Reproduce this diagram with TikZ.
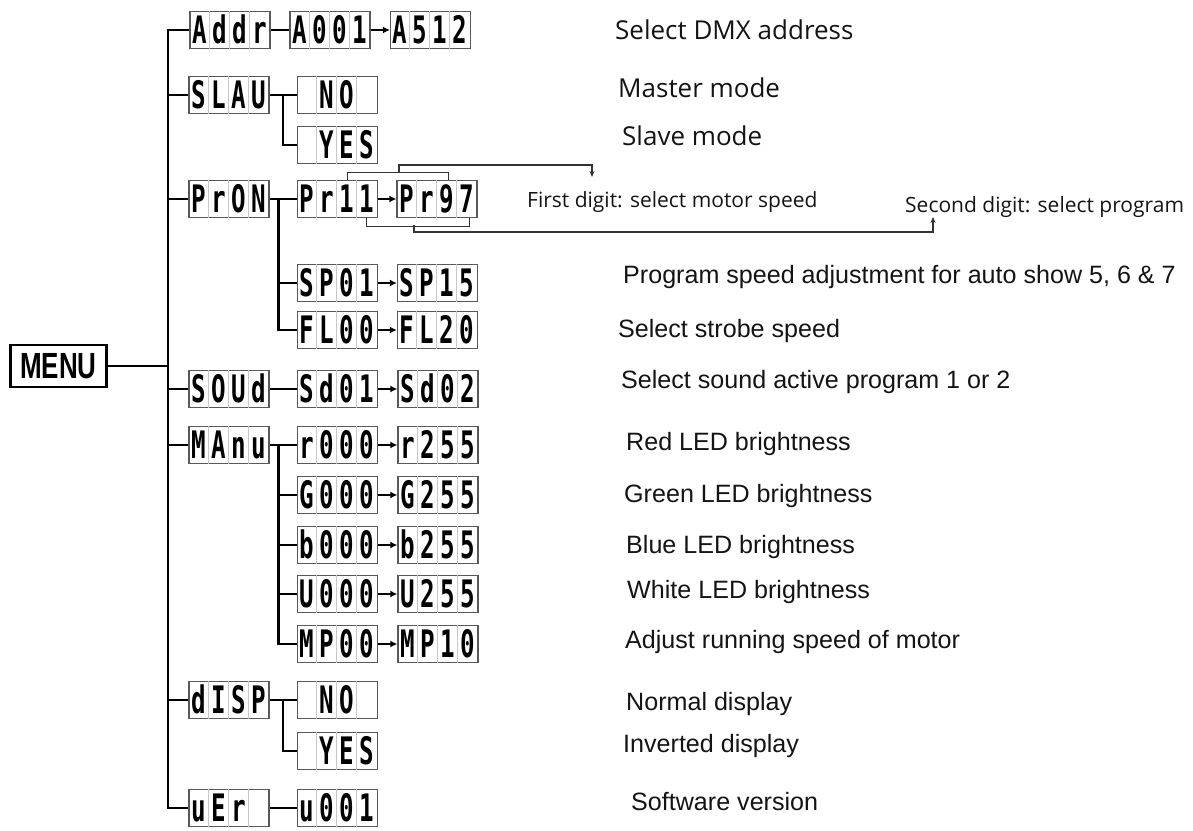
\documentclass[tikz,border=0pt]{standalone}
\usepackage{fontspec}
\usepackage{graphicx}
\usetikzlibrary{arrows.meta,calc}
\setmainfont{Liberation Sans}
\newfontfamily\segfont{Open Sans}
\newfontfamily\lcdfont{DejaVu Sans Mono}
\newcommand\lcdchar[1]{\scalebox{1.1}[1.72]{\lcdfont\bfseries\fontsize{22}{22}\selectfont #1}}
\tikzset{
  lcdbox/.style={draw=black!65, line width=1.3pt, minimum width=80pt, minimum height=37pt, inner sep=0pt},
  lcdcell/.style={draw=black!22, line width=0.8pt},
  lcdtxt/.style={anchor=base, inner sep=0pt},
  conn/.style={line width=2.6pt, black},
  arr/.style={conn, -{Latex[length=7pt,width=7pt]}},
  thinln/.style={line width=1.2pt, black!80},
  tarr/.style={thinln, -{Stealth[length=6pt,width=5pt]}},
  lab/.style={anchor=base west, inner sep=0pt, text=black!92, font=\fontsize{25.1}{30}\selectfont},
  slab/.style={anchor=base west, inner sep=0pt, text=black!92, font=\segfont\fontsize{26}{30}\selectfont},
  smlab/.style={anchor=base west, inner sep=0pt, text=black!92, font=\segfont\fontsize{21}{25}\selectfont}
}
\newcommand\lcd[7]{%
  \node[lcdbox] (#1) at (#2,#3) {};
  \foreach \i in {1,2,3} \draw[lcdcell] ([xshift=\i*20pt]#1.north west) -- ([xshift=\i*20pt]#1.south west);
  \node[lcdtxt] (#1-a) at ([xshift=10pt,yshift=-13.5pt]#1.west) {\lcdchar{#4}};
  \node[lcdtxt] (#1-b) at ([xshift=30pt,yshift=-13.5pt]#1.west) {\lcdchar{#5}};
  \node[lcdtxt] (#1-c) at ([xshift=50pt,yshift=-13.5pt]#1.west) {\lcdchar{#6}};
  \node[lcdtxt] (#1-d) at ([xshift=70pt,yshift=-13.5pt]#1.west) {\lcdchar{#7}};
}
\begin{document}
\begin{tikzpicture}[x=1pt,y=-1pt]
\useasboundingbox (0,0) rectangle (1193,830);
% MENU
\node[draw, line width=2.8pt, minimum width=96pt, minimum height=42pt, inner sep=0pt] (MENU) at (58.5,366) {\scalebox{1}[1.4]{\bfseries\fontsize{26}{26}\selectfont MENU}};
% level 1
\lcd{Addr}{230}{30}{A}{d}{d}{r}
\lcd{SLAU}{229}{95}{S}{L}{A}{U}
\lcd{PrON}{229}{199}{P}{r}{O}{N}
\lcd{SOUd}{229}{389}{S}{O}{U}{d}
\lcd{MAnu}{229}{445}{M}{A}{n}{u}
\lcd{dISP}{229}{700}{d}{I}{S}{P}
\lcd{uEr}{229}{808}{u}{E}{r}{}
% level 2
\lcd{A001}{330}{30}{A}{0}{0}{1}
\lcd{A512}{430.5}{30}{A}{5}{1}{2}
\lcd{NOa}{337.5}{95}{}{N}{O}{}
\lcd{YESa}{337.5}{145}{}{Y}{E}{S}
\lcd{Pr11}{337.5}{199}{P}{r}{1}{1}
\lcd{Pr97}{437}{199}{P}{r}{9}{7}
\lcd{SP01}{337.5}{283}{S}{P}{0}{1}
\lcd{SP15}{437.5}{283}{S}{P}{1}{5}
\lcd{FL00}{337.5}{330}{F}{L}{0}{0}
\lcd{FL20}{437.5}{330}{F}{L}{2}{0}
\lcd{Sd01}{337.5}{389}{S}{d}{0}{1}
\lcd{Sd02}{438}{389}{S}{d}{0}{2}
\lcd{r000}{337.5}{445}{r}{0}{0}{0}
\lcd{r255}{438}{445}{r}{2}{5}{5}
\lcd{G000}{337.5}{495}{G}{0}{0}{0}
\lcd{G255}{438}{495}{G}{2}{5}{5}
\lcd{b000}{337.5}{545}{b}{0}{0}{0}
\lcd{b255}{438}{545}{b}{2}{5}{5}
\lcd{U000}{337.5}{594}{U}{0}{0}{0}
\lcd{U255}{438}{594}{U}{2}{5}{5}
\lcd{MP00}{337.5}{644}{M}{P}{0}{0}
\lcd{MP10}{438}{644}{M}{P}{1}{0}
\lcd{NOb}{337.5}{700}{}{N}{O}{}
\lcd{YESb}{337.5}{751}{}{Y}{E}{S}
\lcd{u001}{337.5}{808}{u}{0}{0}{1}
% trunk
\coordinate (trunk) at (168,0);
\coordinate (s1) at (283,0);
\coordinate (s2) at (278.5,0);
\draw[conn] (Addr.west) -- (Addr.west -| trunk) |- (uEr.west);
\foreach \n in {SLAU,PrON,SOUd,MAnu,dISP} \draw[conn] (\n.west) -- (\n.west -| trunk);
\draw[conn] (MENU.east) -- (MENU.east -| trunk);
% rows
\draw[conn] (Addr.east) -- (A001.west);
\draw[arr] (A001.east) -- (A512.west);
\draw[conn] (SLAU.east) -- (NOa.west);
\draw[conn] (SLAU.east -| s1) |- (YESa.west);
\draw[conn] (PrON.east) -- (Pr11.west);
\draw[conn] (PrON.east -| s2) |- (FL00.west);
\draw[conn] (SP01.west -| s2) -- (SP01.west);
\draw[arr] (Pr11.east) -- (Pr97.west);
\draw[arr] (SP01.east) -- (SP15.west);
\draw[arr] (FL00.east) -- (FL20.west);
\draw[conn] (SOUd.east) -- (Sd01.west);
\draw[arr] (Sd01.east) -- (Sd02.west);
\draw[conn] (MAnu.east) -- (r000.west);
\draw[conn] (MAnu.east -| s2) |- (MP00.west);
\foreach \n in {G000,b000,U000} \draw[conn] (\n.west -| s2) -- (\n.west);
\draw[arr] (r000.east) -- (r255.west);
\draw[arr] (G000.east) -- (G255.west);
\draw[arr] (b000.east) -- (b255.west);
\draw[arr] (U000.east) -- (U255.west);
\draw[arr] (MP00.east) -- (MP10.west);
\draw[conn] (dISP.east) -- (NOb.west);
\draw[conn] (dISP.east -| s1) |- (YESb.west);
\draw[conn] (uEr.east) -- (u001.west);
% digit brackets
\draw[thinln] ([xshift=51pt]Pr11.north west) -- ++(0,-7) -| ([xshift=52pt]Pr97.north west);
\draw[thinln] ([xshift=70pt]Pr11.south west) -- ++(0,8) -| ([xshift=73pt]Pr97.south west);
\coordinate (ub) at (399,173);
\coordinate (ua) at (399,165);
\coordinate (fd) at (592,177);
\draw[tarr] (ub) -- (ua) -| (fd);
\coordinate (lb) at (414,225);
\coordinate (la) at (414,232);
\coordinate (sd) at (933,217);
\draw[tarr] (lb) -- (la) -| (sd);
% labels
\node[slab] (l1) at (615,39) {Select DMX address};
\node[slab] (l2) at (618,97) {Master mode};
\node[slab] (l3) at (622,145) {Slave mode};
\node[smlab] (l4) at (527,207) {First digit: select motor speed};
\node[smlab] (l5) at (905,212) {Second digit: select program};
\node[lab] (l6) at (623,283) {Program speed adjustment for auto show 5, 6 \& 7};
\node[lab] (l7) at (618,337) {Select strobe speed};
\node[lab] (l8) at (621,388) {Select sound active program 1 or 2};
\node[lab] (l9) at (626,450) {Red LED brightness};
\node[lab] (l10) at (624,502) {Green LED brightness};
\node[lab] (l11) at (626,553) {Blue LED brightness};
\node[lab] (l12) at (627,598) {White LED brightness};
\node[lab] (l13) at (625,648) {Adjust running speed of motor};
\node[lab] (l14) at (626,710) {Normal display};
\node[lab] (l15) at (623,752) {Inverted display};
\node[lab] (l16) at (631,810) {Software version};
\end{tikzpicture}
\end{document}
